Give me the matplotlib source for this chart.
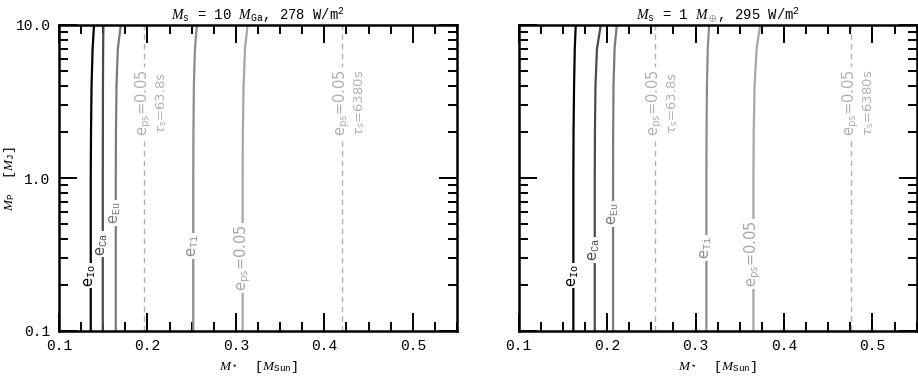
import matplotlib
matplotlib.use("Agg")
import matplotlib.pyplot as plt
import matplotlib.ticker as mt
import matplotlib.transforms as mtrans

plt.rcParams['font.family'] = ['Liberation Mono', 'DejaVu Sans']
plt.rcParams['mathtext.fontset'] = 'custom'
plt.rcParams['mathtext.rm'] = 'Liberation Mono'
plt.rcParams['mathtext.tt'] = 'Liberation Mono'
plt.rcParams['mathtext.it'] = 'Liberation Serif:italic'
plt.rcParams['mathtext.sf'] = 'DejaVu Sans'
plt.rcParams['mathtext.bf'] = 'DejaVu Sans:italic'

# Planet mass grid [M_J]
mp_grid = [0.1, 1.0, 2.0, 4.0, 7.0, 10.0]

# Left panel (M_s = 10 M_Ga): stellar mass of each curve [M_Sun]
io_L = [0.1359, 0.1359, 0.1362, 0.1368, 0.1380, 0.1396]
ca_L = [0.1495, 0.1495, 0.1496, 0.1497, 0.1499, 0.1502]
eu_L = [0.1642, 0.1642, 0.1644, 0.1650, 0.1665, 0.1699]
ti_L = [0.2518, 0.2518, 0.2520, 0.2525, 0.2537, 0.2559]
ps_L = [0.3076, 0.3076, 0.3079, 0.3087, 0.3103, 0.3132]
dash_L = [0.1962, 0.4197]

# Right panel (M_s = 1 M_Earth)
io_R = [0.1618, 0.1618, 0.1620, 0.1626, 0.1634, 0.1645]
ca_R = [0.1860, 0.1860, 0.1862, 0.1868, 0.1885, 0.1928]
eu_R = [0.2067, 0.2067, 0.2068, 0.2072, 0.2084, 0.2109]
ti_R = [0.3122, 0.3122, 0.3124, 0.3128, 0.3138, 0.3153]
ps_R = [0.3654, 0.3654, 0.3657, 0.3667, 0.3690, 0.3730]
dash_R = [0.2542, 0.4756]

curve_names = ['Io', 'Ca', 'Eu', 'Ti', 'ps']
label_mp_L = [0.23, 0.37, 0.59, 0.36, 0.30]
label_mp_R = [0.23, 0.34, 0.58, 0.35, 0.32]
dash_label_mp = 3.1
tau_labels = ['63.8s', '6380s']
titles = [r'$M_\mathrm{s}$ = 10 $M_\mathrm{Ga}$, 278 W/m$^2$',
          r'$M_\mathrm{s}$ = 1 $M_\oplus$, 295 W/m$^2$']

colors = ['#000000', '#4a4a4a', '#7a7a7a', '#8c8c8c', '#a6a6a6']
dash_color = '#b0b0b0'

W, H = 918, 379
fig = plt.figure(figsize=(W / 100, H / 100), dpi=100)
ax_bottom = 1 - 331 / H
ax_h = (331 - 25) / H
axL = fig.add_axes([59 / W, ax_bottom, 398 / W, ax_h])
axR = fig.add_axes([518.7 / W, ax_bottom, 398 / W, ax_h])

panels = [
    (axL, [io_L, ca_L, eu_L, ti_L, ps_L], dash_L, label_mp_L, titles[0]),
    (axR, [io_R, ca_R, eu_R, ti_R, ps_R], dash_R, label_mp_R, titles[1]),
]

for k, (ax, curves, dashes, lab_mp, title) in enumerate(panels):
    ax.set_xscale('linear')
    ax.set_yscale('log')
    ax.set_xlim(0.1, 0.55)
    ax.set_ylim(0.1, 10.0)

    for c, xs, name, ymp in zip(colors, curves, curve_names, lab_mp):
        ax.plot(xs, mp_grid, color=c, lw=1.6, solid_capstyle='butt')
        xl = xs[0]
        if name == 'ps':
            txt = r'$\mathsf{e}_\mathsf{ps}$=0.05'
        else:
            txt = r'$\mathsf{e}_\mathrm{%s}$' % name
        ax.text(xl, ymp, txt, rotation=90, ha='center', va='center',
                color=c, fontsize=10.5, family=['DejaVu Sans'],
                bbox=dict(boxstyle='square,pad=0.1', fc='white', ec='none'),
                zorder=5)

    for xd, tau in zip(dashes, tau_labels):
        ax.plot([xd, xd], [0.1, 10.0], color=dash_color, lw=1.0,
                ls=(0, (4, 3)))
        ax.text(xd, dash_label_mp, r'$\mathsf{e}_\mathsf{ps}$=0.05',
                rotation=90, ha='center', va='center', color=dash_color,
                fontsize=10.5, family=['DejaVu Sans'],
                bbox=dict(boxstyle='square,pad=0.15', fc='white', ec='none'),
                zorder=5)
        off = mtrans.offset_copy(ax.transData, fig=fig, x=12.5, y=0,
                                 units='points')
        ax.text(xd, dash_label_mp, r'$\mathbf{\tau}_\mathsf{s}$=' + tau,
                rotation=90, ha='center', va='center', color=dash_color,
                fontsize=9.5, family=['DejaVu Sans'], transform=off,
                zorder=5)

    ax.xaxis.set_major_locator(mt.FixedLocator([0.1, 0.2, 0.3, 0.4, 0.5]))
    ax.xaxis.set_minor_locator(mt.MultipleLocator(0.025))
    ax.xaxis.set_major_formatter(mt.FormatStrFormatter('%.1f'))
    ax.yaxis.set_major_locator(mt.FixedLocator([0.1, 1.0, 10.0]))
    ax.yaxis.set_minor_locator(mt.LogLocator(base=10, subs=range(2, 10)))
    ax.yaxis.set_minor_formatter(mt.NullFormatter())
    ax.yaxis.set_major_formatter(mt.FormatStrFormatter('%.1f'))
    ax.tick_params(which='major', direction='in', length=13, width=1.4,
                   top=True, right=True, labelsize=10.5, pad=6)
    ax.tick_params(which='minor', direction='in', length=6.5, width=1.4,
                   top=True, right=True)
    for s in ax.spines.values():
        s.set_linewidth(1.8)
    ax.set_title(title, fontsize=10, pad=3)
    ax.set_xlabel(r'$M_*$  [$M_\mathrm{Sun}$]', fontsize=9.5, labelpad=4)
    if k == 0:
        ax.set_ylabel(r'$M_\mathrm{P}$  [$M_\mathrm{J}$]', fontsize=9.5,
                      labelpad=-2)
    else:
        ax.tick_params(labelleft=False)

fig.savefig('out.png', dpi=100)
